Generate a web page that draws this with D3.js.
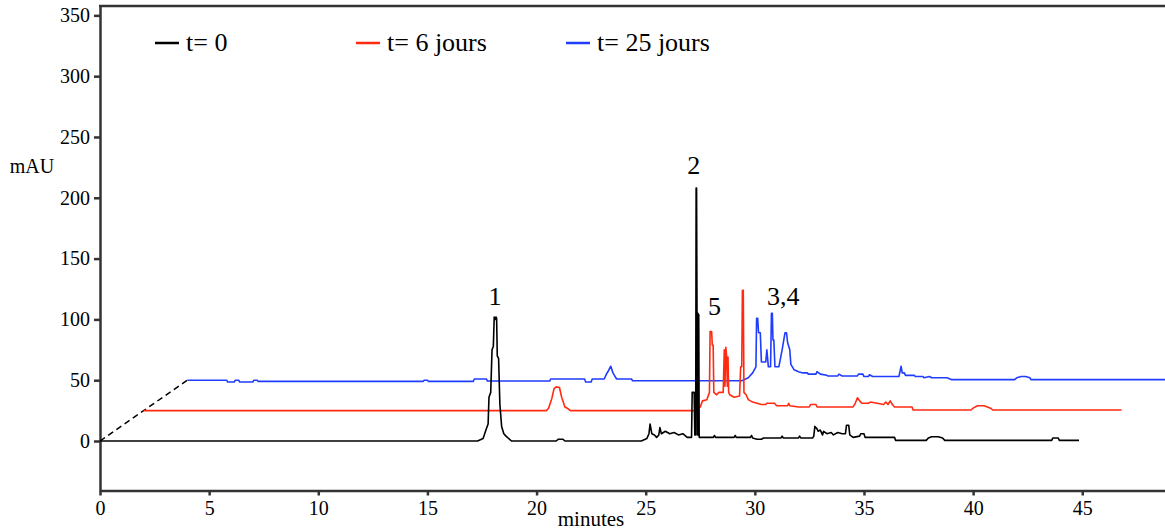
<!DOCTYPE html>
<html>
<head>
<meta charset="utf-8">
<script src="https://cdn.jsdelivr.net/npm/d3@7"></script>
<style>
  body { margin: 0; background: #fff; }
</style>
</head>
<body>
<svg id="chart" width="1165" height="531"></svg>
<script>
// chromatograms, [minutes, mAU] (offset traces included)
var black = [
  [0, 0], [17.3, 0], [17.55, 2], [17.7, 10], [17.78, 14], [17.82, 36], [17.9, 40], [17.96, 75],
  [18.02, 78], [18.06, 102], [18.1, 100], [18.14, 102], [18.17, 101], [18.2, 70], [18.26, 68],
  [18.32, 30], [18.4, 12], [18.5, 6], [18.6, 4], [18.85, 0], [20.9, 0], [21.0, 1.5], [21.2, 1.5],
  [21.3, 0], [24.8, 0], [25.05, 2], [25.15, 6], [25.2, 14], [25.28, 6], [25.4, 5], [25.5, 3],
  [25.6, 5], [25.65, 11], [25.72, 6], [25.9, 8], [26.1, 6], [26.3, 7], [26.5, 5], [26.7, 6],
  [26.9, 3], [27.1, 3], [27.13, 40], [27.22, 40], [27.25, 5], [27.29, 5], [27.31, 208], [27.33, 208],
  [27.35, 105], [27.37, 5], [27.39, 105], [27.41, 5], [27.43, 104], [27.45, 3], [28.1, 3],
  [28.15, 4.5], [28.2, 3], [29.05, 3], [29.1, 4.5], [29.15, 3], [29.8, 3], [29.85, 4.5], [29.9, 2.5],
  [30.1, 1.5], [30.3, 1.5], [30.4, 2.5], [31.2, 2.5], [31.25, 4], [31.3, 2.5], [32.0, 2.5],
  [32.05, 4], [32.1, 2.5], [32.65, 2.5], [32.7, 4], [32.75, 12], [32.85, 10], [32.9, 8], [33.0, 9],
  [33.1, 5], [33.15, 8], [33.3, 6], [33.5, 7], [33.6, 5], [33.8, 7], [34.0, 6], [34.15, 6],
  [34.2, 13], [34.3, 13], [34.35, 5], [34.5, 3], [34.8, 4], [34.85, 6], [35.0, 6], [35.05, 3],
  [36.4, 3], [36.45, 0.5], [37.85, 0.5], [37.95, 2.5], [38.1, 3.5], [38.4, 3.5], [38.6, 2.5],
  [38.7, 0.5], [43.6, 0.5], [43.65, 2.5], [43.9, 2.5], [43.95, 0.5], [44.85, 0.5]
];
var red = [
  [2, 25], [20.45, 25], [20.55, 27], [20.7, 35], [20.8, 43], [20.9, 44.5], [21.05, 44], [21.15, 36],
  [21.3, 28], [21.45, 26.5], [21.55, 25], [27.3, 25], [27.35, 26], [27.5, 28], [27.6, 33],
  [27.8, 34], [27.92, 40], [27.95, 90], [28.02, 90], [28.05, 79], [28.09, 79], [28.12, 40],
  [28.25, 38], [28.35, 40], [28.55, 40], [28.6, 75], [28.63, 45], [28.67, 77], [28.71, 69],
  [28.74, 45], [28.77, 69], [28.8, 40], [28.85, 38], [29.05, 36], [29.3, 37], [29.35, 61],
  [29.4, 61], [29.43, 124], [29.47, 124], [29.5, 40], [29.6, 38], [29.7, 34], [29.9, 32],
  [30.1, 31], [30.3, 30], [30.5, 30], [30.55, 31], [30.9, 31], [31.0, 29], [31.5, 29], [31.55, 31],
  [31.6, 29], [32.0, 28], [32.5, 28], [32.55, 30], [32.8, 30], [32.85, 28], [34.5, 28], [34.6, 31],
  [34.7, 35.5], [34.8, 33], [34.9, 31], [35.2, 31], [35.3, 32], [35.6, 31], [35.9, 30], [36.0, 32],
  [36.1, 30], [36.2, 33], [36.3, 30], [36.4, 28], [37.2, 28], [37.25, 25.5], [39.9, 25.5],
  [40.0, 27], [40.2, 29], [40.5, 29], [40.8, 27], [40.9, 25.5], [46.8, 25.5]
];
var blue = [
  [4, 50], [5.8, 50], [5.85, 48.5], [6.15, 48.5], [6.2, 50], [6.35, 50], [6.4, 48.5], [7.0, 48.5],
  [7.05, 50], [7.2, 50], [7.25, 49], [14.8, 49], [14.85, 50], [15.0, 50], [15.05, 49], [17.1, 49],
  [17.15, 51], [17.7, 51], [17.75, 49.3], [20.6, 49.3], [20.65, 51], [22.2, 51], [22.25, 48.5],
  [22.5, 48.5], [22.55, 51], [23.1, 51], [23.2, 55], [23.3, 58], [23.4, 61.5], [23.5, 56],
  [23.6, 53], [23.67, 51], [24.35, 51], [24.4, 49.5], [29.4, 49.5], [29.7, 52], [29.9, 56],
  [30.05, 61], [30.08, 101], [30.13, 101], [30.17, 89], [30.25, 89], [30.3, 65], [30.5, 65],
  [30.55, 75], [30.62, 61], [30.72, 61], [30.76, 105], [30.8, 105], [30.83, 83], [30.87, 83],
  [30.92, 61], [31.1, 61], [31.25, 75], [31.38, 89], [31.45, 89], [31.5, 81], [31.6, 75],
  [31.65, 63], [31.8, 58.5], [32.0, 57], [32.2, 56], [32.4, 56], [32.45, 55], [32.8, 55],
  [32.85, 57], [33.0, 55], [33.3, 54], [33.35, 53.5], [33.8, 53.5], [33.85, 55], [34.0, 53.5],
  [34.7, 53.5], [34.75, 55], [34.95, 55], [35.0, 53], [35.2, 53], [35.25, 54.5], [35.4, 53],
  [36.6, 53], [36.7, 61.5], [36.75, 56], [36.85, 56], [36.9, 54], [37.3, 54], [37.35, 53],
  [37.7, 53], [37.75, 52], [38.0, 53], [38.1, 52], [38.8, 52], [39.0, 50.5], [41.9, 50.5],
  [42.0, 52], [42.2, 53], [42.4, 53], [42.6, 52], [42.65, 50.5], [48.8, 50.5]
];
var offsetLine = [[0, 0], [4, 50]];

var legendNames = ["t= 0", "t= 6 jours", "t= 25 jours"];
var legendColors = ["#000000", "#ff2a10", "#1f3cff"];
var legendX = [155, 356, 566];

var peakLabels = [
  { text: "1", t: 18.1, v: 100 },
  { text: "2", t: 27.2, v: 208 },
  { text: "5", t: 28.15, v: 92 },
  { text: "3,4", t: 31.3, v: 100 }
];

var xTicks = [0, 5, 10, 15, 20, 25, 30, 35, 40, 45];
var yTicks = [0, 50, 100, 150, 200, 250, 300, 350];

var serif = "Liberation Serif, Times New Roman, serif";
var svg = d3.select("#chart");
var x = d3.scaleLinear().domain([0, 48.79]).range([100, 1165]);
var y = d3.scaleLinear().domain([-40.7, 357.7]).range([490.5, 6]);

var line = d3.line()
  .x(function (d) { return x(d[0]); })
  .y(function (d) { return y(d[1]); });

// axes
var yAxis = svg.append("g")
  .attr("transform", "translate(100,0)")
  .call(d3.axisLeft(y).tickValues(yTicks).tickSize(6).tickSizeOuter(0).tickPadding(4));
var xAxis = svg.append("g")
  .attr("transform", "translate(0,490.5)")
  .call(d3.axisBottom(x).tickValues(xTicks).tickSize(5).tickSizeOuter(0).tickPadding(5));
[yAxis, xAxis].forEach(function (g) {
  g.attr("font-family", serif).attr("font-size", 20);
  g.selectAll("path, line").attr("stroke", "#333").attr("stroke-width", 2.5);
  g.selectAll("text").attr("fill", "#000");
});
svg.append("line")
  .attr("x1", 99).attr("x2", 1165)
  .attr("y1", 6).attr("y2", 6)
  .attr("stroke", "#333").attr("stroke-width", 2.5);

svg.append("text").attr("x", 32).attr("y", 173).attr("text-anchor", "middle")
  .attr("font-family", serif).attr("font-size", 20).text("mAU");
svg.append("text").attr("x", 591).attr("y", 526).attr("text-anchor", "middle")
  .attr("font-family", serif).attr("font-size", 21).text("minutes");

// offset guide
svg.append("path")
  .attr("d", line(offsetLine))
  .attr("fill", "none")
  .attr("stroke", "#000")
  .attr("stroke-width", 1.5)
  .attr("stroke-dasharray", "6,4");

// traces
[blue, red, black].forEach(function (s, i) {
  svg.append("path")
    .attr("d", line(s))
    .attr("fill", "none")
    .attr("stroke", legendColors[2 - i])
    .attr("stroke-width", 1.6)
    .attr("stroke-linejoin", "round");
});

// peak labels
svg.append("g")
  .selectAll("text")
  .data(peakLabels)
  .enter()
  .append("text")
  .attr("x", function (d) { return x(d.t); })
  .attr("y", function (d) { return y(d.v) - 14; })
  .attr("text-anchor", "middle")
  .attr("font-family", serif)
  .attr("font-size", 26)
  .text(function (d) { return d.text; });

// legend
var legend = svg.append("g")
  .selectAll("g")
  .data(legendNames)
  .enter()
  .append("g")
  .attr("transform", function (d, i) { return "translate(" + legendX[i] + ",43)"; });
legend.append("line")
  .attr("x1", 0).attr("x2", 24)
  .attr("stroke", function (d, i) { return legendColors[i]; })
  .attr("stroke-width", 2.5);
legend.append("text")
  .attr("x", 31).attr("y", 8)
  .attr("font-family", serif)
  .attr("font-size", 26)
  .text(function (d) { return d; });
</script>
</body>
</html>
